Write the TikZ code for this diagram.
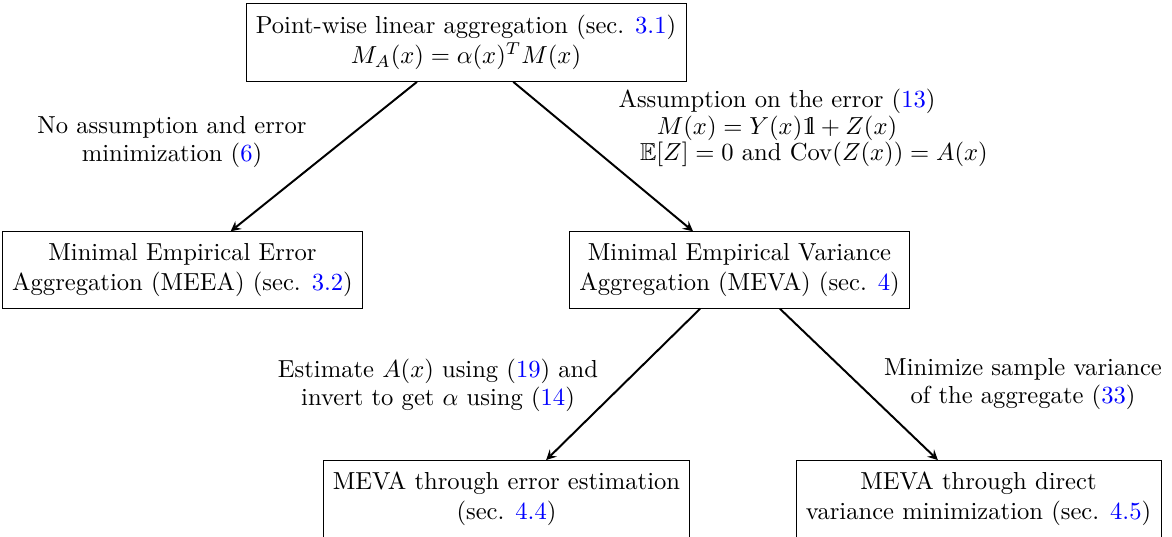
\documentclass[tikz,border=0pt]{standalone}
\usepackage{amsmath,amssymb}
\IfFileExists{dsfont.sty}{\usepackage{dsfont}\newcommand{\onevec}{\mathds{1}}}{\newcommand{\onevec}{\mathrm{1\hspace{-0.25em}l}}}
\usepackage{tikz}
\usetikzlibrary{arrows}

\newcommand{\lref}[1]{\textcolor{blue}{#1}}

\begin{document}
\begin{tikzpicture}[x=0.4065pt, y=-0.4065pt,
    box/.style={draw, align=center, inner xsep=4pt, inner ysep=4.7pt, font={\fontsize{10}{12.2}\selectfont}},
    lbl/.style={align=center, font={\fontsize{10}{11.4}\selectfont}},
    arr/.style={->, >=stealth, thick}]
    \useasboundingbox (0, 0) rectangle (1172, 536);

    \node[box] (lin) at (466, 42.5) {Point-wise linear aggregation (sec. \lref{3.1})\\ $M_A(x) = \alpha(x)^T M(x)$};
    \node[box] (meea) at (182.5, 270) {Minimal Empirical Error\\ Aggregation (MEEA) (sec. \lref{3.2})};
    \node[box] (meva) at (739.5, 270) {Minimal Empirical Variance\\ Aggregation (MEVA) (sec. \lref{4})};
    \node[box] (est) at (506.5, 499) {MEVA through error estimation\\ (sec. \lref{4.4})};
    \node[box] (dir) at (978.5, 499) {MEVA through direct\\ variance minimization (sec. \lref{4.5})};

    \node[lbl] (noass) at (172, 142) {No assumption and error\\ minimization (\lref{6})};
    \node[lbl, font={\fontsize{10}{10.9}\selectfont}] (ass) at (777, 128) {Assumption on the error (\lref{13})\\ $M(x) = Y(x)\onevec + Z(x)$\\ \hspace*{30pt}$\mathbb{E}[Z] = 0$ and $\mathrm{Cov}(Z(x)) = A(x)$};
    \node[lbl] (inv) at (438, 385) {Estimate $A(x)$ using (\lref{19}) and\\ invert to get $\alpha$ using (\lref{14})};
    \node[lbl] (minv) at (1023, 384) {Minimize sample variance\\ of the aggregate (\lref{33})};

    \draw[arr] (lin) -- (meea);
    \draw[arr] (lin) -- (meva);
    \draw[arr] (meva) -- (est);
    \draw[arr] (meva) -- (dir);
  \end{tikzpicture}
\end{document}
